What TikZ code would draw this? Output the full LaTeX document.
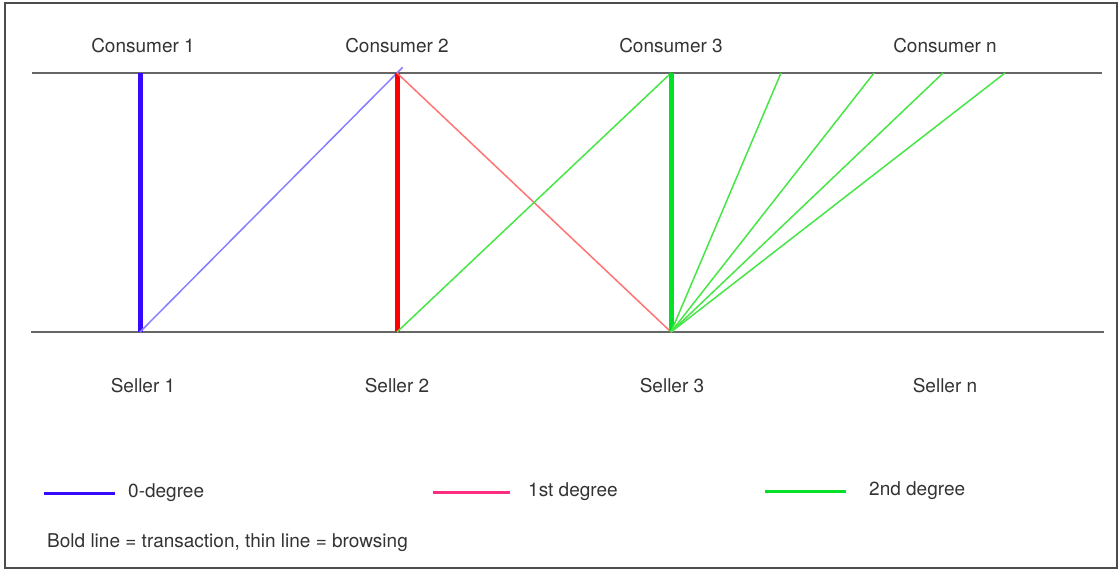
\documentclass[tikz,border=0pt]{standalone}
\usepackage{fontspec}
\setmainfont{TeX Gyre Heros}
\usepackage{tikz}
\usetikzlibrary{positioning}
\definecolor{degzero}{RGB}{55,10,255}
\definecolor{degzerothin}{RGB}{135,125,255}
\definecolor{degone}{RGB}{255,0,0}
\definecolor{degonethin}{RGB}{255,115,115}
\definecolor{degonekey}{RGB}{255,45,130}
\definecolor{degtwo}{RGB}{0,225,40}
\definecolor{degtwothin}{RGB}{70,230,70}
\tikzset{font=\fontsize{19}{22}\selectfont}
\tikzset{every node/.append style={transform shape=false, inner sep=0pt, text=black!80}}
\tikzset{rail/.style={line width=2pt, black!60}}
\tikzset{transaction/.style={line width=5pt}}
\tikzset{browsing/.style={line width=1.5pt}}
\tikzset{keyline/.style={line width=3pt}}

\begin{document}
\begin{tikzpicture}[x=1pt,y=-1pt]
  \useasboundingbox (0,0) rectangle (1119,571);
  \draw[line width=2.5pt, black!70] (5,3) rectangle (1117,568);

  % consumers on the top rail, sellers on the bottom one
  \coordinate (topl) at (32,73);
  \coordinate (topr) at (1102,73);
  \coordinate (botl) at (31,332);
  \coordinate (botr) at (1104,332);
  \draw[rail] (topl)--(topr);
  \draw[rail] (botl)--(botr);

  \foreach \x/\n in {140/1, 397/2, 671/3}{
    \coordinate (c\n) at (\x,73);
    \coordinate (s\n) at (\x,332);
  };
  \foreach \x/\n in {781/a, 874/b, 943/c, 1005/d}
    \coordinate (cn\n) at (\x,73);

  \node[anchor=base] (cons1) at (143,52) {Consumer 1};
  \node[anchor=base] (cons2) at (397,52) {Consumer 2};
  \node[anchor=base] (cons3) at (671,52) {Consumer 3};
  \node[anchor=base] (consn) at (945,52) {Consumer n};
  \node[anchor=base] (sell1) at (143,392) {Seller 1};
  \node[anchor=base] (sell2) at (397,392) {Seller 2};
  \node[anchor=base] (sell3) at (672,392) {Seller 3};
  \node[anchor=base] (selln) at (945,392) {Seller n};

  % 0-degree
  \draw[transaction, degzero] (c1)--(s1);
  \draw[browsing, degzerothin, shorten >=-8pt] (s1)--(c2);
  % 1st degree
  \draw[transaction, degone] (c2)--(s2);
  \draw[browsing, degonethin] (c2)--(s3);
  % 2nd degree
  \draw[browsing, degtwothin] (s2)--(c3);
  \draw[transaction, degtwo] (c3)--(s3);
  \foreach \n in {a,b,c,d}
    \draw[browsing, degtwothin] (s3)--(cn\n);

  % key
  \node[anchor=base west] (key0) at (128,497) {0-degree};
  \node[anchor=base west] (key1) at (528,496) {1st degree};
  \node[anchor=base west] (key2) at (869,495) {2nd degree};
  \draw[keyline, degzero] ([xshift=-84pt,yshift=-1pt]key0.west)--([xshift=-13pt,yshift=-1pt]key0.west);
  \draw[keyline, degonekey] ([xshift=-95pt,yshift=-1pt]key1.west)--([xshift=-18pt,yshift=-1pt]key1.west);
  \draw[keyline, degtwo] ([xshift=-104pt,yshift=-1pt]key2.west)--([xshift=-23pt,yshift=-1pt]key2.west);
  \node[anchor=base west] (note) at (47,547) {Bold line = transaction, thin line = browsing};
\end{tikzpicture}
\end{document}
